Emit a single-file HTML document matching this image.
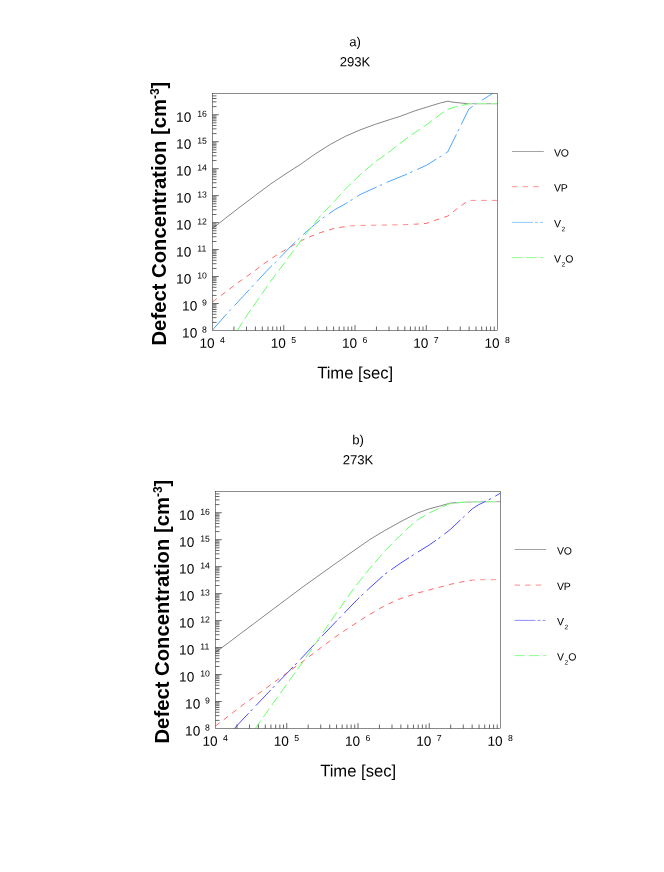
<!DOCTYPE html>
<html><head><meta charset="utf-8"><title>Defect concentration</title>
<style>
html,body{margin:0;padding:0;background:#fff}
svg{display:block;will-change:transform}
text{font-family:"Liberation Sans",sans-serif;fill:#000}
.tl{font-size:13.6px}
.sp{font-size:8.7px}
.tt{font-size:13.1px}
.xt{font-size:16.6px}
.yt{font-size:20.25px;font-weight:bold}
.ys{font-size:12px}
.lg{font-size:10.5px;letter-spacing:-0.35px}
.sb{font-size:6.6px}
</style></head><body>
<svg width="664" height="872" viewBox="0 0 664 872">
<rect width="664" height="872" fill="#fff"/>
<clipPath id="c0"><rect x="212.5" y="93.5" width="285" height="237"/></clipPath>
<g clip-path="url(#c0)" fill="none" stroke-linejoin="round">
<polyline points="212.5,228.2 217.5,224.5 225.1,218.5 240.1,206.9 255.2,195.5 270.2,184.3 285.3,174.1 300.2,164.6 315.1,154 330.1,144.5 345.2,136.4 360.2,129.9 375.3,124.3 390.4,119.4 400,116.4 415,110.8 427.8,106.8 440.6,102.9 448.2,101.2 451.5,102 459.8,102.9 468.3,103.7" stroke="#000" stroke-width="0.48"/>
<polyline points="468.3,103.7 497.5,103.7" stroke="#000" stroke-width="0.36"/>
<polyline points="212.5,301.9 225.1,292.4 240.1,281.1 255.2,270.5 263,264.3 275.1,256 290.1,247 305.2,238.7 320.2,232.7 335.3,228.1 350.4,225.9" stroke="#fff" stroke-width="1" stroke-dasharray="5.4 5.2" stroke-dashoffset="0"/>
<polyline points="212.5,301.9 225.1,292.4 240.1,281.1 255.2,270.5 263,264.3 275.1,256 290.1,247 305.2,238.7 320.2,232.7 335.3,228.1 350.4,225.9" stroke="#ff0000" stroke-width="0.6" stroke-dasharray="5.4 5.2" stroke-dashoffset="0"/>
<polyline points="350.4,225.9 360,225.4 401.5,224.8 415.1,224.2" stroke="#fff" stroke-width="1" stroke-dasharray="5.4 5.2" stroke-dashoffset="159.57"/>
<polyline points="350.4,225.9 360,225.4 401.5,224.8 415.1,224.2" stroke="#ff0000" stroke-width="0.45" stroke-dasharray="5.4 5.2" stroke-dashoffset="159.57"/>
<polyline points="415.1,224.2 426.4,223.4 436.1,220 447.4,216.2 454.2,210.9 468.5,200.4" stroke="#fff" stroke-width="1" stroke-dasharray="5.4 5.2" stroke-dashoffset="224.3"/>
<polyline points="415.1,224.2 426.4,223.4 436.1,220 447.4,216.2 454.2,210.9 468.5,200.4" stroke="#ff0000" stroke-width="0.6" stroke-dasharray="5.4 5.2" stroke-dashoffset="224.3"/>
<polyline points="468.5,200.4 497.5,200.4" stroke="#fff" stroke-width="1" stroke-dasharray="5.4 5.2" stroke-dashoffset="284.19"/>
<polyline points="468.5,200.4 497.5,200.4" stroke="#ff0000" stroke-width="0.45" stroke-dasharray="5.4 5.2" stroke-dashoffset="284.19"/>
<polyline points="212.3,330.2 225.1,315.7 240.1,299.5 255.2,283.3 270.2,267.2 275.1,262.8 290.1,247 305.2,232.7 320.2,219.9 335.3,209.3 345.1,204 360.1,194.6 375.2,187.7 390.2,180.9 405.3,174.8 417.6,169.3 426.5,165.2 447.7,152 468.8,109.1 476.5,103.6 494.2,92.5" stroke="#fff" stroke-width="1" stroke-dasharray="22 3.4 2.5 5.1" stroke-dashoffset="0"/>
<polyline points="212.3,330.2 225.1,315.7 240.1,299.5 255.2,283.3 270.2,267.2 275.1,262.8 290.1,247 305.2,232.7 320.2,219.9 335.3,209.3 345.1,204 360.1,194.6 375.2,187.7 390.2,180.9 405.3,174.8 417.6,169.3 426.5,165.2 447.7,152 468.8,109.1 476.5,103.6 494.2,92.5" stroke="#0080ff" stroke-width="0.7" stroke-dasharray="22 3.4 2.5 5.1" stroke-dashoffset="0"/>
<polyline points="236.9,331 247.7,314.2 255.2,303.7 270.2,281.8 280.3,268.5 290.1,255.2 305.2,234.9 320.2,216.1 335.3,200.3 345.1,189.2 360.1,174.8 375.2,162 390.4,151 400,143.3 415,132.5 427.8,123.8 440.6,114.2 447.7,109.3 453.4,107.4 459.8,105.9 468.3,103.9 470,103.7" stroke="#fff" stroke-width="1" stroke-dasharray="10.4 4.3" stroke-dashoffset="0"/>
<polyline points="236.9,331 247.7,314.2 255.2,303.7 270.2,281.8 280.3,268.5 290.1,255.2 305.2,234.9 320.2,216.1 335.3,200.3 345.1,189.2 360.1,174.8 375.2,162 390.4,151 400,143.3 415,132.5 427.8,123.8 440.6,114.2 447.7,109.3 453.4,107.4 459.8,105.9 468.3,103.9 470,103.7" stroke="#00ff00" stroke-width="0.6" stroke-dasharray="10.4 4.3" stroke-dashoffset="0"/>
<polyline points="470,103.7 497.5,103.7" stroke="#fff" stroke-width="1" stroke-dasharray="10.4 4.3" stroke-dashoffset="331.92"/>
<polyline points="470,103.7 497.5,103.7" stroke="#00ff00" stroke-width="0.45" stroke-dasharray="10.4 4.3" stroke-dashoffset="331.92"/>
</g>
<path d="M212.5 322.38h4M212.5 317.63h4M212.5 314.26h4M212.5 311.65h4M212.5 309.51h4M212.5 307.71h4M212.5 306.14h4M212.5 304.76h4M212.5 303.53h6.3M212.5 295.41h4M212.5 290.66h4M212.5 287.29h4M212.5 284.68h4M212.5 282.54h4M212.5 280.74h4M212.5 279.17h4M212.5 277.79h4M212.5 276.56h6.3M212.5 268.44h4M212.5 263.69h4M212.5 260.32h4M212.5 257.71h4M212.5 255.57h4M212.5 253.77h4M212.5 252.2h4M212.5 250.82h4M212.5 249.59h6.3M212.5 241.47h4M212.5 236.72h4M212.5 233.35h4M212.5 230.74h4M212.5 228.6h4M212.5 226.8h4M212.5 225.23h4M212.5 223.85h4M212.5 222.62h6.3M212.5 214.5h4M212.5 209.75h4M212.5 206.38h4M212.5 203.77h4M212.5 201.63h4M212.5 199.83h4M212.5 198.26h4M212.5 196.88h4M212.5 195.65h6.3M212.5 187.53h4M212.5 182.78h4M212.5 179.41h4M212.5 176.8h4M212.5 174.66h4M212.5 172.86h4M212.5 171.29h4M212.5 169.91h4M212.5 168.68h6.3M212.5 160.56h4M212.5 155.81h4M212.5 152.44h4M212.5 149.83h4M212.5 147.69h4M212.5 145.89h4M212.5 144.32h4M212.5 142.94h4M212.5 141.71h6.3M212.5 133.59h4M212.5 128.84h4M212.5 125.47h4M212.5 122.86h4M212.5 120.72h4M212.5 118.92h4M212.5 117.35h4M212.5 115.97h4M212.5 114.74h6.3M212.5 106.62h4M212.5 101.87h4M212.5 98.5h4M212.5 95.89h4M233.95 330.5v-4M246.49 330.5v-4M255.4 330.5v-4M262.3 330.5v-4M267.94 330.5v-4M272.71 330.5v-4M276.85 330.5v-4M280.49 330.5v-4M283.75 330.5v-5.4M305.2 330.5v-4M317.74 330.5v-4M326.65 330.5v-4M333.55 330.5v-4M339.19 330.5v-4M343.96 330.5v-4M348.1 330.5v-4M351.74 330.5v-4M355 330.5v-5.4M376.45 330.5v-4M388.99 330.5v-4M397.9 330.5v-4M404.8 330.5v-4M410.44 330.5v-4M415.21 330.5v-4M419.35 330.5v-4M422.99 330.5v-4M426.25 330.5v-5.4M447.7 330.5v-4M460.24 330.5v-4M469.15 330.5v-4M476.05 330.5v-4M481.69 330.5v-4M486.46 330.5v-4M490.6 330.5v-4M494.24 330.5v-4" stroke="#000" stroke-width="0.6" fill="none"/>
<rect x="212.5" y="93.5" width="285" height="237" fill="none" stroke="#000" stroke-width="0.46"/>
<text transform="translate(182.1 337.4) rotate(0.2)" class="tl">10</text>
<text transform="translate(201.9 332.4) rotate(0.2)" class="sp">8</text>
<text transform="translate(182.1 310.43) rotate(0.2)" class="tl">10</text>
<text transform="translate(201.9 305.43) rotate(0.2)" class="sp">9</text>
<text transform="translate(176.1 283.46) rotate(0.2)" class="tl">10</text>
<text transform="translate(197.2 278.46) rotate(0.2)" class="sp">10</text>
<text transform="translate(176.1 256.49) rotate(0.2)" class="tl">10</text>
<text transform="translate(197.2 251.49) rotate(0.2)" class="sp">11</text>
<text transform="translate(176.1 229.52) rotate(0.2)" class="tl">10</text>
<text transform="translate(197.2 224.52) rotate(0.2)" class="sp">12</text>
<text transform="translate(176.1 202.55) rotate(0.2)" class="tl">10</text>
<text transform="translate(197.2 197.55) rotate(0.2)" class="sp">13</text>
<text transform="translate(176.1 175.58) rotate(0.2)" class="tl">10</text>
<text transform="translate(197.2 170.58) rotate(0.2)" class="sp">14</text>
<text transform="translate(176.1 148.61) rotate(0.2)" class="tl">10</text>
<text transform="translate(197.2 143.61) rotate(0.2)" class="sp">15</text>
<text transform="translate(176.1 121.64) rotate(0.2)" class="tl">10</text>
<text transform="translate(197.2 116.64) rotate(0.2)" class="sp">16</text>
<text transform="translate(199.4 347.8) rotate(0.2)" class="tl">10</text>
<text transform="translate(220.1 343.1) rotate(0.2)" class="sp">4</text>
<text transform="translate(270.65 347.8) rotate(0.2)" class="tl">10</text>
<text transform="translate(291.35 343.1) rotate(0.2)" class="sp">5</text>
<text transform="translate(341.9 347.8) rotate(0.2)" class="tl">10</text>
<text transform="translate(362.6 343.1) rotate(0.2)" class="sp">6</text>
<text transform="translate(413.15 347.8) rotate(0.2)" class="tl">10</text>
<text transform="translate(433.85 343.1) rotate(0.2)" class="sp">7</text>
<text transform="translate(484.4 347.8) rotate(0.2)" class="tl">10</text>
<text transform="translate(505.1 343.1) rotate(0.2)" class="sp">8</text>
<text transform="translate(355 46.2) rotate(0.2)" class="tt" text-anchor="middle">a)</text>
<text transform="translate(355 66.3) rotate(0.2)" class="tt" text-anchor="middle">293K</text>
<text transform="translate(355.1 378.5) rotate(0.2)" class="xt" text-anchor="middle">Time [sec]</text>
<text transform="translate(166.2 345.5) rotate(-90)" class="yt">Defect Concentration [cm<tspan class="ys" dy="-7.4">-3</tspan><tspan dy="7.4">]</tspan></text>
<line x1="512" y1="151.5" x2="543.8" y2="151.5" stroke="#000" stroke-width="0.36"/>
<text transform="translate(554.1 156.4) rotate(0.2)" class="lg">VO</text>
<line x1="512" y1="186.7" x2="543.8" y2="186.7" stroke="#ff0000" stroke-width="0.45" stroke-dasharray="5.5 5.1"/>
<text transform="translate(554.1 191.6) rotate(0.2)" class="lg">VP</text>
<line x1="512" y1="222.4" x2="543" y2="222.4" stroke="#0080ff" stroke-width="0.45" stroke-dasharray="21 2.1 2.9 2.1"/>
<text transform="translate(554.1 227.3) rotate(0.2)" class="lg">V<tspan class="sb" dx="0.7" dy="3.9">2</tspan></text>
<line x1="512" y1="257.6" x2="543.8" y2="257.6" stroke="#00ff00" stroke-width="0.45" stroke-dasharray="10.4 3.8"/>
<text transform="translate(554.1 262.5) rotate(0.2)" class="lg">V<tspan class="sb" dx="0.7" dy="3.9">2</tspan><tspan dx="0.5" dy="-3.9">O</tspan></text>
<clipPath id="c398"><rect x="215.5" y="491.5" width="285" height="237"/></clipPath>
<g clip-path="url(#c398)" fill="none" stroke-linejoin="round">
<polyline points="215.5,652.4 228.1,643 243.1,631.7 258.2,620.4 273.2,609.1 288.3,597.8 303.4,586.5 320,574.6 340,560.4 355.1,549.8 370.1,539.3 385.2,530.3 403,520.4 418.1,512.8 429.4,508.8 440.7,505.8 450.4,503.1 463.2,502.3" stroke="#000" stroke-width="0.48"/>
<polyline points="463.2,502.3 472.3,501.9 500.5,501.6" stroke="#000" stroke-width="0.36"/>
<polyline points="215.3,726.1 228.1,716.4 243.1,704.7 258.2,693.9 273.2,682.9 288.3,671.9 303.4,661 317.1,650.5 335.2,637 350.2,626.9 365.3,617.1 380.4,608.1 389.4,603.6 398,599.5 406,597 418.1,592.9 429.4,589.9 440.7,586.9 450.4,584.3 463.2,581.6 472.3,580.1" stroke="#fff" stroke-width="1" stroke-dasharray="5.4 5.2" stroke-dashoffset="0"/>
<polyline points="215.3,726.1 228.1,716.4 243.1,704.7 258.2,693.9 273.2,682.9 288.3,671.9 303.4,661 317.1,650.5 335.2,637 350.2,626.9 365.3,617.1 380.4,608.1 389.4,603.6 398,599.5 406,597 418.1,592.9 429.4,589.9 440.7,586.9 450.4,584.3 463.2,581.6 472.3,580.1" stroke="#ff0000" stroke-width="0.6" stroke-dasharray="5.4 5.2" stroke-dashoffset="0"/>
<polyline points="472.3,580.1 481.3,579.7 500.5,579.7" stroke="#fff" stroke-width="1" stroke-dasharray="5.4 5.2" stroke-dashoffset="299.54"/>
<polyline points="472.3,580.1 481.3,579.7 500.5,579.7" stroke="#ff0000" stroke-width="0.45" stroke-dasharray="5.4 5.2" stroke-dashoffset="299.54"/>
<polyline points="233.9,729 243.1,719 258.2,703.2 273.2,687.4 288.3,671.9 303.4,656.2 320.1,638.2 335.2,622.4 350.2,606.9 357.3,599.5 370.1,587.5 385.2,573.9 400.2,563.4 415.3,553.6 429.4,544.9 440.7,536.9 450.4,529.4 463.2,517.4 472.3,508.8 478.3,504.9 485.1,501.6 493.4,497.3 500.5,493.1" stroke="#fff" stroke-width="1" stroke-dasharray="21.6 3.0 2.5 4.9" stroke-dashoffset="0"/>
<polyline points="233.9,729 243.1,719 258.2,703.2 273.2,687.4 288.3,671.9 303.4,656.2 320.1,638.2 335.2,622.4 350.2,606.9 357.3,599.5 370.1,587.5 385.2,573.9 400.2,563.4 415.3,553.6 429.4,544.9 440.7,536.9 450.4,529.4 463.2,517.4 472.3,508.8 478.3,504.9 485.1,501.6 493.4,497.3 500.5,493.1" stroke="#0000ff" stroke-width="0.7" stroke-dasharray="21.6 3.0 2.5 4.9" stroke-dashoffset="0"/>
<polyline points="254.9,729.2 265.7,713.7 273.2,703.2 288.3,682.1 303.4,661.3 320.1,636.7 335.2,614.8 346,599.5 355.1,586.7 370.1,567.9 385.2,550.6 400.2,535.5 410.5,525.7 418.1,519.6 429.4,512.8 440.7,507.6 450.4,503.4 463.2,502.3" stroke="#fff" stroke-width="1" stroke-dasharray="10.4 4.3" stroke-dashoffset="0"/>
<polyline points="254.9,729.2 265.7,713.7 273.2,703.2 288.3,682.1 303.4,661.3 320.1,636.7 335.2,614.8 346,599.5 355.1,586.7 370.1,567.9 385.2,550.6 400.2,535.5 410.5,525.7 418.1,519.6 429.4,512.8 440.7,507.6 450.4,503.4 463.2,502.3" stroke="#00ff00" stroke-width="0.6" stroke-dasharray="10.4 4.3" stroke-dashoffset="0"/>
<polyline points="463.2,502.3 472.3,501.9 500.5,501.6" stroke="#fff" stroke-width="1" stroke-dasharray="10.4 4.3" stroke-dashoffset="315.52"/>
<polyline points="463.2,502.3 472.3,501.9 500.5,501.6" stroke="#00ff00" stroke-width="0.45" stroke-dasharray="10.4 4.3" stroke-dashoffset="315.52"/>
</g>
<path d="M215.5 720.38h4M215.5 715.63h4M215.5 712.26h4M215.5 709.65h4M215.5 707.51h4M215.5 705.71h4M215.5 704.14h4M215.5 702.76h4M215.5 701.53h6.3M215.5 693.41h4M215.5 688.66h4M215.5 685.29h4M215.5 682.68h4M215.5 680.54h4M215.5 678.74h4M215.5 677.17h4M215.5 675.79h4M215.5 674.56h6.3M215.5 666.44h4M215.5 661.69h4M215.5 658.32h4M215.5 655.71h4M215.5 653.57h4M215.5 651.77h4M215.5 650.2h4M215.5 648.82h4M215.5 647.59h6.3M215.5 639.47h4M215.5 634.72h4M215.5 631.35h4M215.5 628.74h4M215.5 626.6h4M215.5 624.8h4M215.5 623.23h4M215.5 621.85h4M215.5 620.62h6.3M215.5 612.5h4M215.5 607.75h4M215.5 604.38h4M215.5 601.77h4M215.5 599.63h4M215.5 597.83h4M215.5 596.26h4M215.5 594.88h4M215.5 593.65h6.3M215.5 585.53h4M215.5 580.78h4M215.5 577.41h4M215.5 574.8h4M215.5 572.66h4M215.5 570.86h4M215.5 569.29h4M215.5 567.91h4M215.5 566.68h6.3M215.5 558.56h4M215.5 553.81h4M215.5 550.44h4M215.5 547.83h4M215.5 545.69h4M215.5 543.89h4M215.5 542.32h4M215.5 540.94h4M215.5 539.71h6.3M215.5 531.59h4M215.5 526.84h4M215.5 523.47h4M215.5 520.86h4M215.5 518.72h4M215.5 516.92h4M215.5 515.35h4M215.5 513.97h4M215.5 512.74h6.3M215.5 504.62h4M215.5 499.87h4M215.5 496.5h4M215.5 493.89h4M236.95 728.5v-4M249.49 728.5v-4M258.4 728.5v-4M265.3 728.5v-4M270.94 728.5v-4M275.71 728.5v-4M279.85 728.5v-4M283.49 728.5v-4M286.75 728.5v-5.4M308.2 728.5v-4M320.74 728.5v-4M329.65 728.5v-4M336.55 728.5v-4M342.19 728.5v-4M346.96 728.5v-4M351.1 728.5v-4M354.74 728.5v-4M358 728.5v-5.4M379.45 728.5v-4M391.99 728.5v-4M400.9 728.5v-4M407.8 728.5v-4M413.44 728.5v-4M418.21 728.5v-4M422.35 728.5v-4M425.99 728.5v-4M429.25 728.5v-5.4M450.7 728.5v-4M463.24 728.5v-4M472.15 728.5v-4M479.05 728.5v-4M484.69 728.5v-4M489.46 728.5v-4M493.6 728.5v-4M497.24 728.5v-4" stroke="#000" stroke-width="0.6" fill="none"/>
<rect x="215.5" y="491.5" width="285" height="237" fill="none" stroke="#000" stroke-width="0.46"/>
<text transform="translate(185.1 735.4) rotate(0.2)" class="tl">10</text>
<text transform="translate(204.9 730.4) rotate(0.2)" class="sp">8</text>
<text transform="translate(185.1 708.43) rotate(0.2)" class="tl">10</text>
<text transform="translate(204.9 703.43) rotate(0.2)" class="sp">9</text>
<text transform="translate(179.1 681.46) rotate(0.2)" class="tl">10</text>
<text transform="translate(200.2 676.46) rotate(0.2)" class="sp">10</text>
<text transform="translate(179.1 654.49) rotate(0.2)" class="tl">10</text>
<text transform="translate(200.2 649.49) rotate(0.2)" class="sp">11</text>
<text transform="translate(179.1 627.52) rotate(0.2)" class="tl">10</text>
<text transform="translate(200.2 622.52) rotate(0.2)" class="sp">12</text>
<text transform="translate(179.1 600.55) rotate(0.2)" class="tl">10</text>
<text transform="translate(200.2 595.55) rotate(0.2)" class="sp">13</text>
<text transform="translate(179.1 573.58) rotate(0.2)" class="tl">10</text>
<text transform="translate(200.2 568.58) rotate(0.2)" class="sp">14</text>
<text transform="translate(179.1 546.61) rotate(0.2)" class="tl">10</text>
<text transform="translate(200.2 541.61) rotate(0.2)" class="sp">15</text>
<text transform="translate(179.1 519.64) rotate(0.2)" class="tl">10</text>
<text transform="translate(200.2 514.64) rotate(0.2)" class="sp">16</text>
<text transform="translate(202.4 745.8) rotate(0.2)" class="tl">10</text>
<text transform="translate(223.1 741.1) rotate(0.2)" class="sp">4</text>
<text transform="translate(273.65 745.8) rotate(0.2)" class="tl">10</text>
<text transform="translate(294.35 741.1) rotate(0.2)" class="sp">5</text>
<text transform="translate(344.9 745.8) rotate(0.2)" class="tl">10</text>
<text transform="translate(365.6 741.1) rotate(0.2)" class="sp">6</text>
<text transform="translate(416.15 745.8) rotate(0.2)" class="tl">10</text>
<text transform="translate(436.85 741.1) rotate(0.2)" class="sp">7</text>
<text transform="translate(487.4 745.8) rotate(0.2)" class="tl">10</text>
<text transform="translate(508.1 741.1) rotate(0.2)" class="sp">8</text>
<text transform="translate(358 444.2) rotate(0.2)" class="tt" text-anchor="middle">b)</text>
<text transform="translate(358 464.3) rotate(0.2)" class="tt" text-anchor="middle">273K</text>
<text transform="translate(358.1 776.5) rotate(0.2)" class="xt" text-anchor="middle">Time [sec]</text>
<text transform="translate(169.2 743.5) rotate(-90)" class="yt">Defect Concentration [cm<tspan class="ys" dy="-7.4">-3</tspan><tspan dy="7.4">]</tspan></text>
<line x1="514.5" y1="549.5" x2="546.3" y2="549.5" stroke="#000" stroke-width="0.36"/>
<text transform="translate(557.1 554.4) rotate(0.2)" class="lg">VO</text>
<line x1="514.5" y1="585.1" x2="546.3" y2="585.1" stroke="#ff0000" stroke-width="0.45" stroke-dasharray="5.5 5.1"/>
<text transform="translate(557.1 590) rotate(0.2)" class="lg">VP</text>
<line x1="514.5" y1="620.4" x2="545.5" y2="620.4" stroke="#0000ff" stroke-width="0.45" stroke-dasharray="21 2.1 2.9 2.1"/>
<text transform="translate(557.1 625.3) rotate(0.2)" class="lg">V<tspan class="sb" dx="0.7" dy="3.9">2</tspan></text>
<line x1="514.5" y1="655.6" x2="546.3" y2="655.6" stroke="#00ff00" stroke-width="0.45" stroke-dasharray="10.4 3.8"/>
<text transform="translate(557.1 660.5) rotate(0.2)" class="lg">V<tspan class="sb" dx="0.7" dy="3.9">2</tspan><tspan dx="0.5" dy="-3.9">O</tspan></text>
</svg>
</body></html>
